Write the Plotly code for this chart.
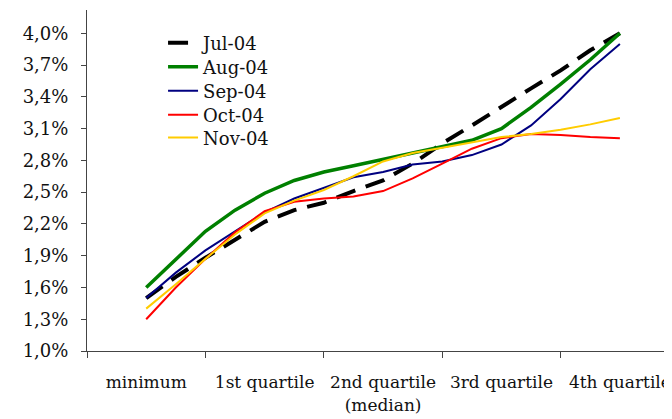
import plotly.graph_objects as go

categories = ["minimum", "1st quartile", "2nd quartile<br>(median)", "3rd quartile", "4th quartile"]
cat_pos = [0, 1, 2, 3, 4]

# x positions of plotted points in category units (0 = minimum ... 4 = 4th quartile)
x_pts = [0, 0.25, 0.5, 0.75, 1, 1.25, 1.5, 1.75, 2, 2.25, 2.5, 2.75, 3, 3.25, 3.5, 3.75, 4]

jul_04 = [1.50, 1.70, 1.88, 2.05, 2.22, 2.33, 2.40, 2.51, 2.61, 2.77, 2.96, 3.13, 3.31, 3.48, 3.65, 3.84, 4.00]
aug_04 = [1.60, 1.87, 2.13, 2.33, 2.49, 2.61, 2.69, 2.75, 2.81, 2.87, 2.93, 2.99, 3.10, 3.30, 3.52, 3.75, 4.00]
sep_04 = [1.50, 1.74, 1.95, 2.13, 2.31, 2.44, 2.54, 2.64, 2.69, 2.76, 2.79, 2.85, 2.95, 3.13, 3.38, 3.66, 3.90]
oct_04 = [1.30, 1.60, 1.87, 2.12, 2.32, 2.41, 2.44, 2.46, 2.51, 2.63, 2.77, 2.91, 3.01, 3.05, 3.04, 3.02, 3.01]
nov_04 = [1.40, 1.63, 1.87, 2.10, 2.30, 2.42, 2.52, 2.65, 2.79, 2.87, 2.92, 2.97, 3.02, 3.05, 3.09, 3.14, 3.20]

y_ticks = [1.0, 1.3, 1.6, 1.9, 2.2, 2.5, 2.8, 3.1, 3.4, 3.7, 4.0]
y_tick_labels = [f"{v:.1f}".replace(".", ",") + "%" for v in y_ticks]

series = [
    ("Jul-04", jul_04, dict(color="#000000", width=4, dash="20px,11px")),
    ("Aug-04", aug_04, dict(color="#008000", width=3.5)),
    ("Sep-04", sep_04, dict(color="#000080", width=2)),
    ("Oct-04", oct_04, dict(color="#FF0000", width=2)),
    ("Nov-04", nov_04, dict(color="#FFCC00", width=2)),
]
legend_y = [0.903, 0.833, 0.762, 0.692, 0.625]

FONT = "DejaVu Serif"
TXT = "#111111"

fig = go.Figure()
legend_layout = {}
for i, (name, vals, line) in enumerate(series):
    key = "legend" if i == 0 else f"legend{i + 1}"
    fig.add_trace(go.Scatter(x=x_pts, y=vals, mode="lines", name=name, line=line, legend=key))
    legend_layout[key] = dict(x=0.130, y=legend_y[i], xanchor="left", yanchor="middle",
                              bgcolor="rgba(0,0,0,0)", borderwidth=0,
                              font=dict(family=FONT, size=18, color=TXT))

# page body has an 8px margin; sizes/margins compensate so the plot area lands at x 87..672, y 10..351
fig.update_layout(
    width=664, height=411,
    margin=dict(l=79, r=0, t=2, b=68),
    paper_bgcolor="white", plot_bgcolor="white",
    font=dict(family=FONT, size=18, color=TXT),
    showlegend=True,
    xaxis=dict(
        range=[-0.5, 4.44], showgrid=False, zeroline=False,
        showline=True, linecolor="#444444", linewidth=1,
        tickvals=cat_pos, ticktext=categories, ticks="",
        tickfont=dict(family=FONT, size=17, color=TXT),
        ticklabelstandoff=16, ticklabeloverflow="allow",
        minor=dict(tick0=0.5, dtick=1, ticks="outside", ticklen=6, tickcolor="#444444", showgrid=False),
    ),
    yaxis=dict(
        range=[1.0, 4.22], showgrid=False, zeroline=False,
        showline=True, linecolor="#444444", linewidth=1,
        tickvals=y_ticks, ticktext=y_tick_labels,
        ticks="outside", ticklen=5, tickcolor="#444444",
        ticklabelstandoff=9,
    ),
    **legend_layout,
)

fig.write_html("out.html")
